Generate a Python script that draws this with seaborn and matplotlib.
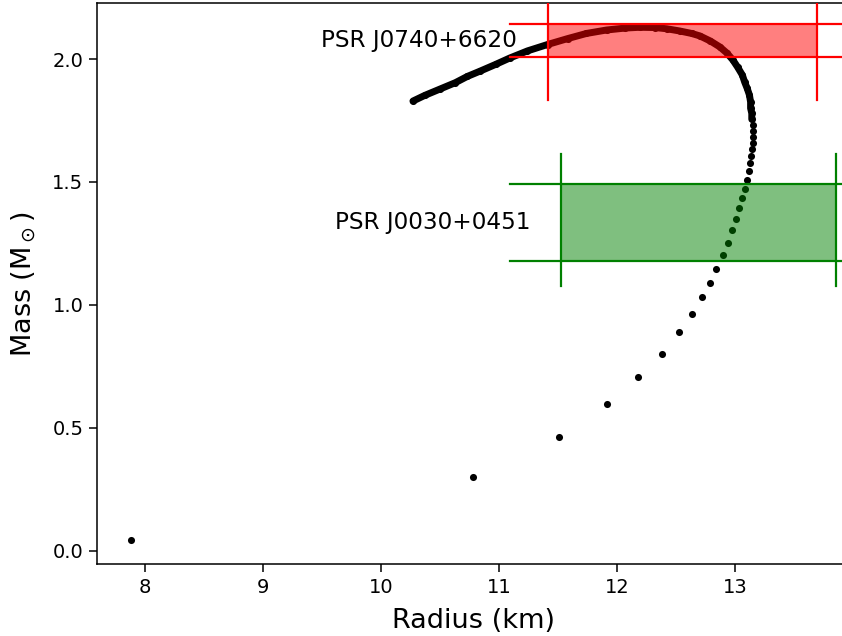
import matplotlib
matplotlib.use("Agg")
import matplotlib.pyplot as plt
import seaborn as sns
import pandas as pd

# Mass-radius sequence: dense branch near the maximum mass (points overlap into a band)
radius_dense = [10.27, 10.37, 10.50, 10.63, 10.73, 10.84, 10.97, 11.09, 11.24, 11.41,
                11.58, 11.74, 11.91, 12.07, 12.19, 12.32, 12.42, 12.53, 12.63, 12.70,
                12.79, 12.87, 12.93, 12.98, 13.02, 13.06, 13.08, 13.10, 13.12, 13.13,
                13.13, 13.14, 13.14]
mass_dense = [1.829, 1.852, 1.878, 1.904, 1.929, 1.951, 1.978, 2.004, 2.033, 2.059,
              2.083, 2.104, 2.118, 2.126, 2.129, 2.128, 2.123, 2.114, 2.104, 2.094,
              2.073, 2.049, 2.024, 1.996, 1.967, 1.935, 1.906, 1.882, 1.854, 1.825,
              1.800, 1.779, 1.755]

# Sparse branch towards low central density
radius_sparse = [13.147, 13.150, 13.150, 13.147, 13.142, 13.136, 13.125, 13.116, 13.102,
                 13.082, 13.057, 13.031, 13.006, 12.972, 12.938, 12.893, 12.841, 12.789,
                 12.721, 12.636, 12.523, 12.379, 12.178, 11.913, 11.509, 10.778, 7.881]
mass_sparse = [1.730, 1.708, 1.684, 1.660, 1.633, 1.605, 1.576, 1.543, 1.509,
               1.472, 1.435, 1.394, 1.349, 1.303, 1.253, 1.202, 1.147, 1.089,
               1.032, 0.962, 0.888, 0.801, 0.707, 0.595, 0.464, 0.300, 0.044]

# Pulsar constraints: radius range (km) and mass range (Msun)
pulsars = ["PSR J0740+6620", "PSR J0030+0451"]
pulsar_colors = ["red", "green"]
r_low = [11.41, 11.52]
r_high = [13.69, 13.85]
m_low = [2.008, 1.180]
m_high = [2.141, 1.490]
# vertical extent of the radius markers
vline_low = [1.833, 1.078]
vline_high = [2.30, 1.614]

fig = plt.figure(figsize=(8.42, 6.36), dpi=100)
ax = fig.add_axes([0.1148, 0.1127, 0.95, 0.8821])

df_dense = pd.DataFrame({"R": radius_dense, "M": mass_dense})
df_all = pd.DataFrame({"R": radius_dense + radius_sparse, "M": mass_dense + mass_sparse})

sns.lineplot(data=df_dense, x="R", y="M", sort=False, estimator=None, color="black",
             linewidth=5.0, solid_capstyle="round", ax=ax, zorder=2)
sns.scatterplot(data=df_all, x="R", y="M", color="black", s=26, linewidth=0, ax=ax, zorder=2)

for name, col, rl, rh, ml, mh, vl, vh in zip(pulsars, pulsar_colors, r_low, r_high,
                                              m_low, m_high, vline_low, vline_high):
    ax.fill_between([rl, rh], ml, mh, color=col, alpha=0.5, linewidth=0, zorder=3)
    for m in (ml, mh):
        ax.plot([11.09, 15.0], [m, m], color=col, lw=1.6, zorder=4)
    for r in (rl, rh):
        ax.plot([r, r], [vl, vh], color=col, lw=1.6, zorder=4)
    ax.text(rl - 0.257, (ml + mh) / 2, name, ha="right", va="center", fontsize=16.7)

ax.set_xlim(7.591, 7.591 + 0.95 * 842 / 118.06)
ax.set_ylim(-0.0553, 2.2266)
ax.set_xticks([8, 9, 10, 11, 12, 13])
ax.set_yticks([0.0, 0.5, 1.0, 1.5, 2.0])
ax.tick_params(labelsize=14, length=6, width=1.1)
for sp in ax.spines.values():
    sp.set_linewidth(1.1)
ax.spines["right"].set_visible(False)
ax.set_xlabel("Radius (km)", fontsize=19.5, labelpad=8.3)
ax.xaxis.label.set_x(0.4716)
ax.set_ylabel(r"Mass (M$_\odot$)", fontsize=19.5, labelpad=9.8)

fig.savefig("out.png", dpi=100)
